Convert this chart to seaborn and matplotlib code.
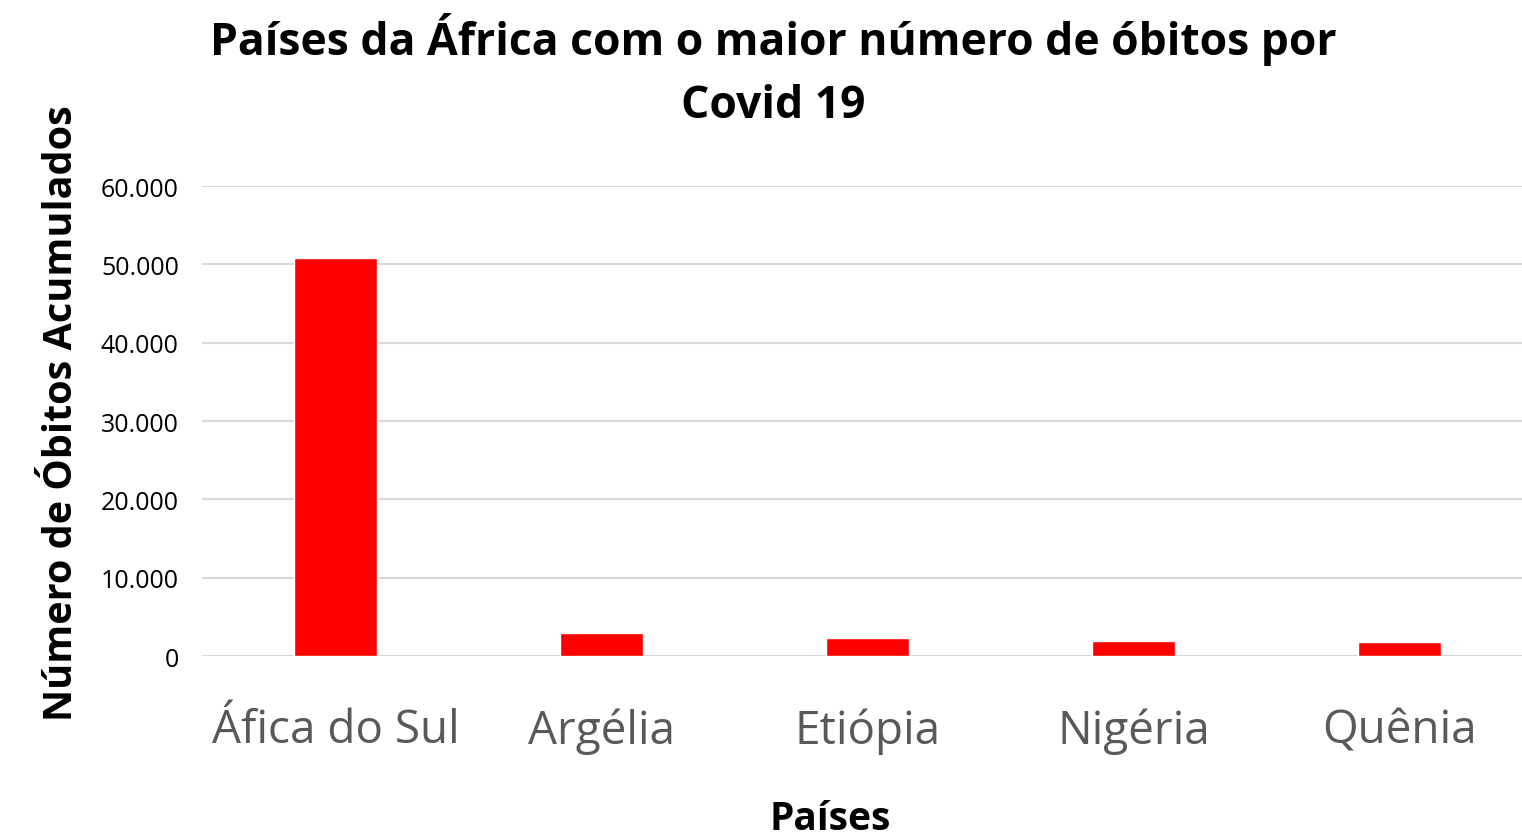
import matplotlib
matplotlib.use('Agg')
import matplotlib.pyplot as plt
import matplotlib.ticker as mtick
import seaborn as sns
import pandas as pd

paises = ['Áfica do Sul', 'Argélia', 'Etiópia', 'Nigéria', 'Quênia']
obitos = [50800, 3000, 2360, 1970, 1850]
y_ticks = [0, 10000, 20000, 30000, 40000, 50000, 60000]

df = pd.DataFrame({'Pais': paises, 'Obitos': obitos})

sns.set_style('white')
plt.rcParams['font.family'] = ['Open Sans', 'DejaVu Sans']
plt.rcParams['text.color'] = 'black'
plt.rcParams['axes.labelcolor'] = 'black'

fig = plt.figure(figsize=(15.22, 8.37), dpi=100)
ax = fig.add_axes([0.133, 0.215, 0.874, 0.5615])

sns.barplot(data=df, x='Pais', y='Obitos', color='#ff0000', width=0.31,
            saturation=1, ax=ax, zorder=3)

ax.set_ylim(0, 60000)
ax.set_xlim(-0.5, 4.5)
ax.set_yticks(y_ticks)
ax.yaxis.set_major_formatter(mtick.FuncFormatter(lambda v, p: f'{int(v):,}'.replace(',', '.')))
ax.grid(axis='y', color='#d9d9d9', linewidth=1.5, zorder=0)
for s in ax.spines.values():
    s.set_visible(False)
ax.tick_params(axis='y', labelsize=18, labelcolor='black', length=0, pad=17)
ax.tick_params(axis='x', labelsize=33, labelcolor='#595959', length=0, pad=37)

ax.set_xlabel('Países', fontsize=28, fontweight='bold')
ax.xaxis.set_label_coords(0.472, -0.305)
ax.set_ylabel('Número de Óbitos Acumulados', fontsize=28.5, fontweight='bold')
ax.yaxis.set_label_coords(-0.091, 0.52)

fig.suptitle('Países da África com o maior número de óbitos por\nCovid 19',
             fontsize=32, fontweight='bold', color='black', x=0.508, y=0.985,
             linespacing=1.55)

fig.savefig('out.png', dpi=100)
